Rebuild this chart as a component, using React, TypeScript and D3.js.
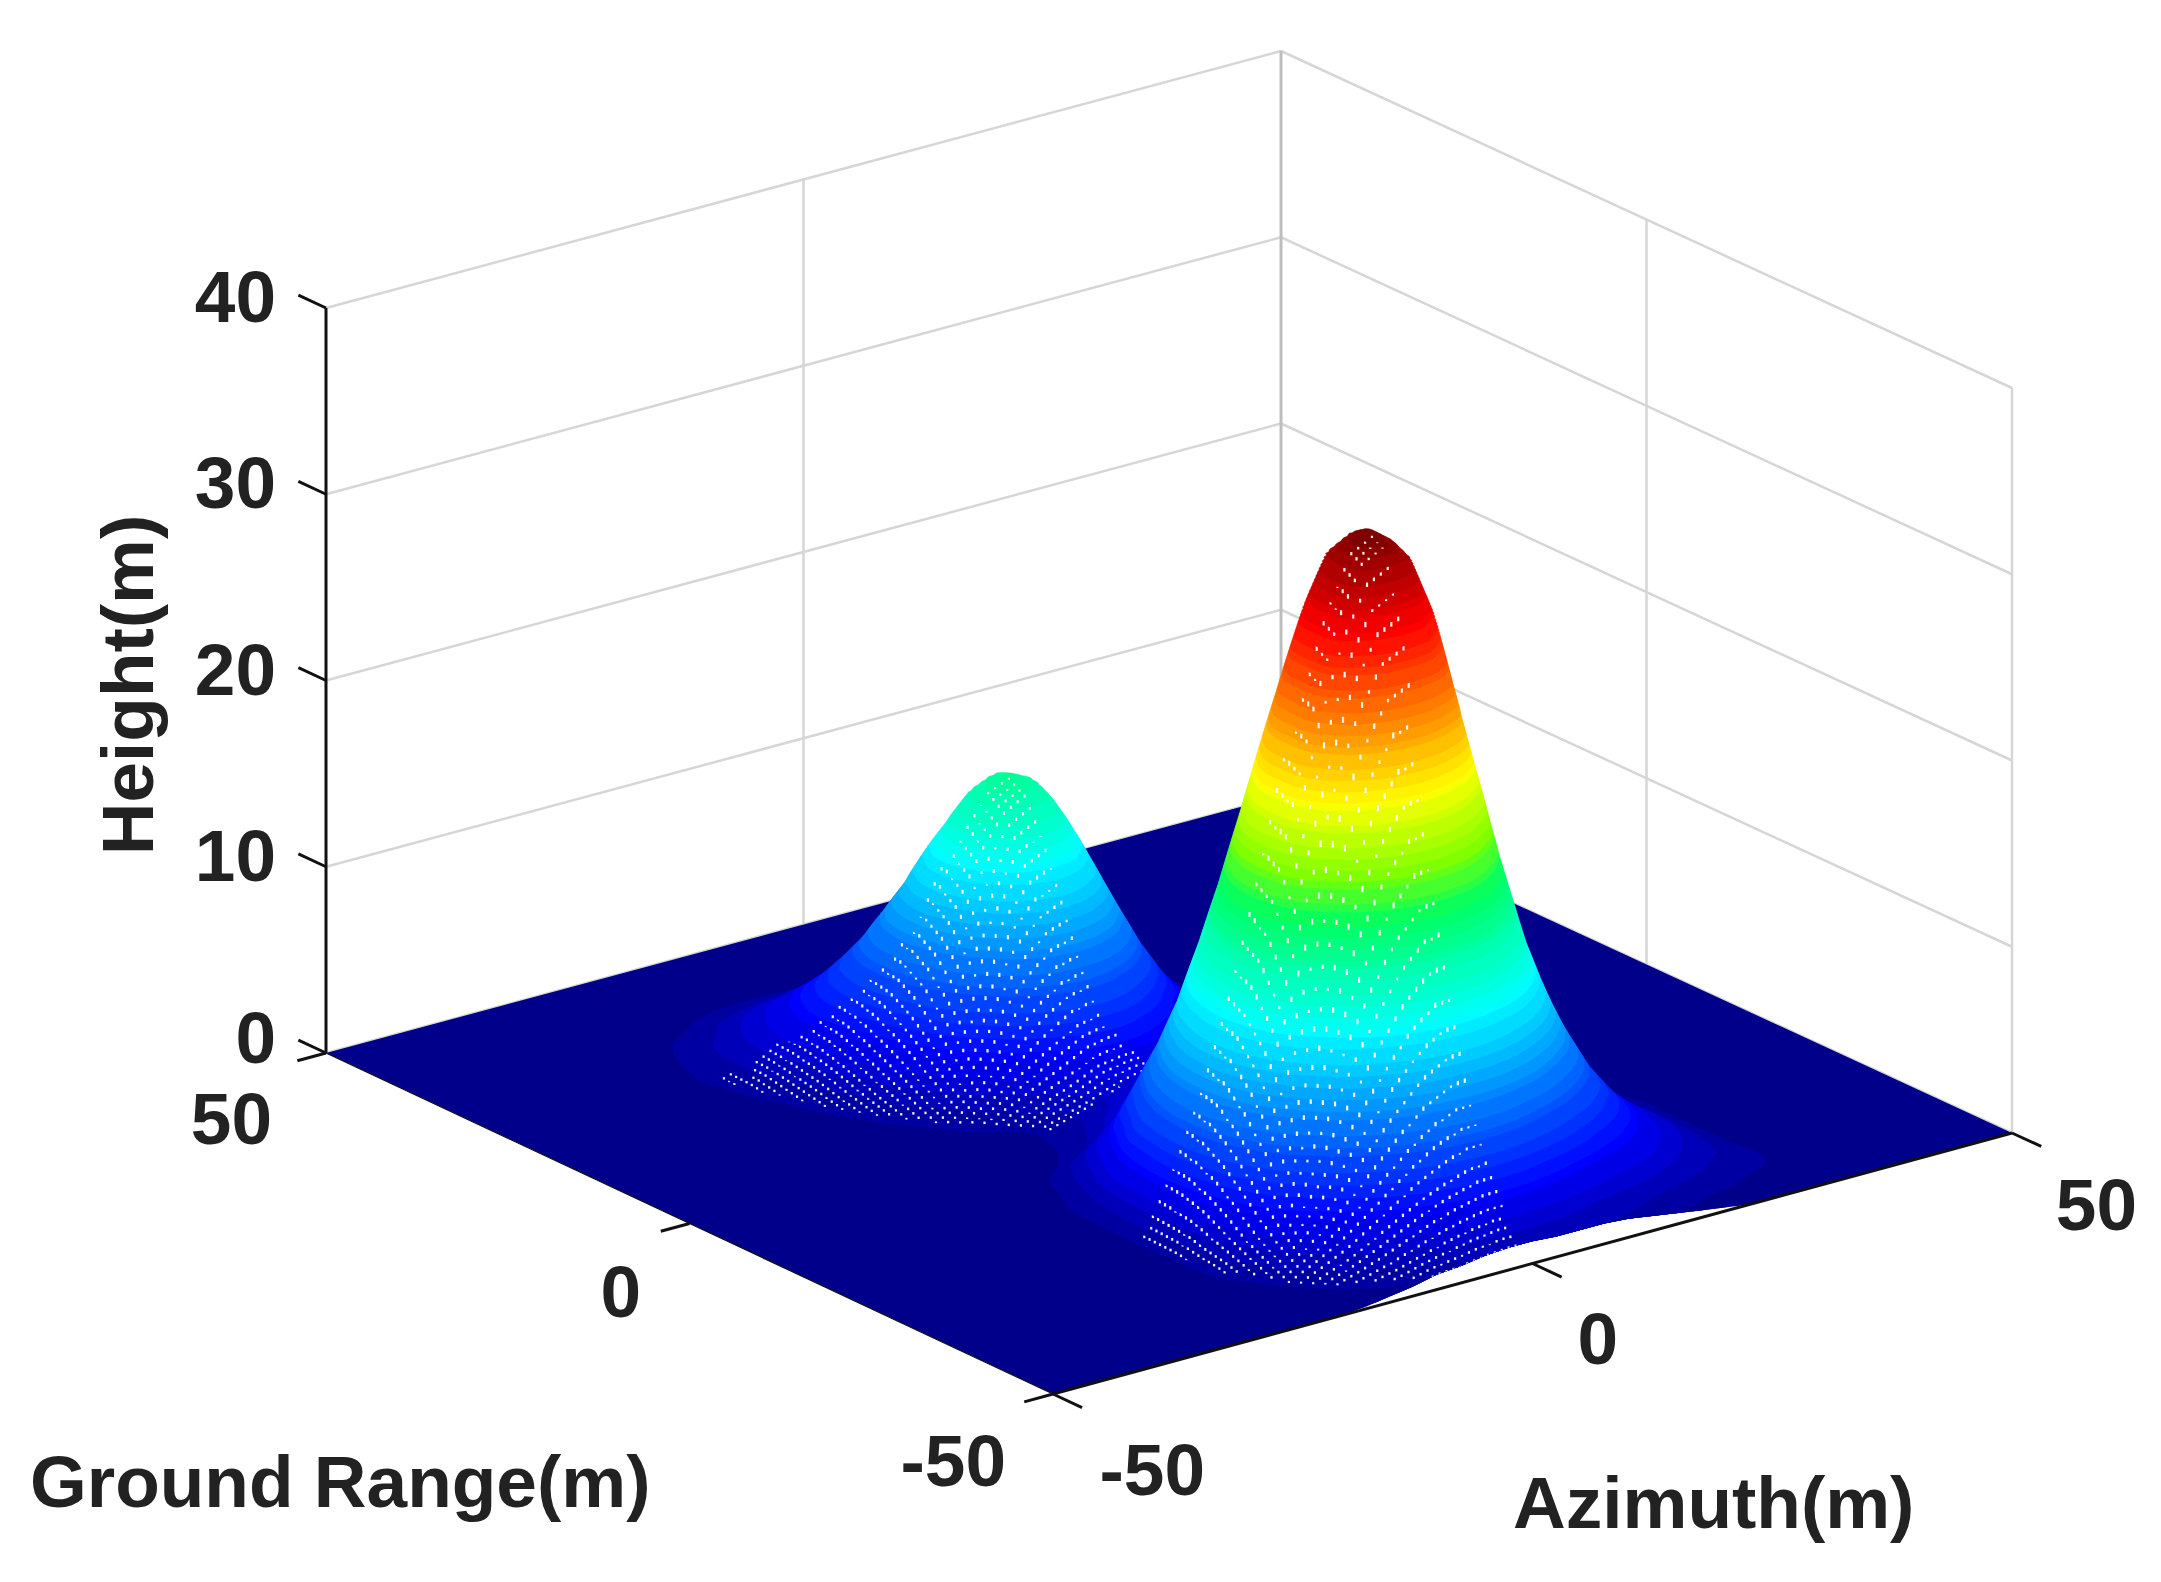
import React from 'react';
import * as d3 from 'd3';

const WIDTH = 2161;
const HEIGHT = 1582;

// tick labels
const azimuthTicks = [-50, 0, 50];
const rangeTicks = [-50, 0, 50];
const heightTicks = [0, 10, 20, 30, 40];

// height (m), every 2.5 m, around the near peak
const nearPeakX = [-32.5, -30, -27.5, -25, -22.5, -20, -17.5, -15, -12.5, -10, -7.5, -5, -2.5, 0, 2.5, 5, 7.5, 10, 12.5, 15, 17.5, 20, 22.5, 25, 27.5, 30, 32.5, 35];
const nearPeakY = [-50, -47.5, -45, -42.5, -40, -37.5, -35, -32.5, -30, -27.5, -25, -22.5, -20, -17.5, -15, -12.5, -10, -7.5, -5, -2.5, 0, 2.5];
const nearPeakRows = [
  [0, 0, 0, 0, 0, 0, .1, .3, .5, .8, .9, 1.1, 1.2, 1.2, 1.1, 1.1, 1.1, 1, .8, .6, .4, .2, 0, 0, 0, 0, 0, 0],
  [0, 0, 0, .1, .1, .2, .5, .8, 1.1, 1.5, 1.9, 2.2, 2.4, 2.4, 2.3, 2.1, 1.8, 1.5, 1.3, 1.1, .9, .7, .6, .4, .3, .2, .1, .1],
  [0, 0, .1, .1, .2, .5, 1, 1.5, 2.2, 2.9, 3.6, 4.1, 4.5, 4.6, 4.4, 3.9, 3.4, 2.8, 2.3, 2, 1.6, 1.3, 1, .8, .6, .4, .2, .1],
  [0, 0, .1, .1, .4, 1, 1.7, 2.6, 3.7, 4.9, 6.1, 7.1, 7.7, 7.8, 7.5, 6.7, 5.7, 4.7, 3.8, 3.1, 2.5, 1.9, 1.4, 1.1, .8, .4, .3, .1],
  [0, 0, .1, .3, .7, 1.5, 2.7, 4.1, 5.9, 7.8, 9.6, 11.2, 12.2, 12.4, 11.8, 10.6, 9, 7.2, 5.7, 4.4, 3.4, 2.5, 1.8, 1.3, .7, .4, .2, .1],
  [0, .1, .2, .4, 1, 2.1, 4, 6, 8.5, 11.3, 14, 16.3, 17.7, 18, 17.2, 15.4, 12.9, 10.3, 7.9, 6, 4.4, 3.1, 2.1, 1.5, .7, .4, .2, .1],
  [0, .1, .2, .4, 1.2, 3, 5.3, 8, 11.4, 15.1, 18.8, 21.8, 23.7, 24.1, 23, 20.6, 17.2, 13.7, 10.3, 7.6, 5.3, 3.6, 2.4, 1.6, .7, .4, .2, .1],
  [0, .1, .2, .4, 1.5, 3.7, 6.5, 9.9, 14, 19, 23.9, 27.7, 30, 30.6, 29.8, 26.8, 22.1, 17.1, 12.5, 8.9, 6.1, 3.9, 2.5, 1.6, .7, .4, .2, .1],
  [0, .1, .2, .4, 1.6, 4.2, 7.4, 11.2, 15.9, 21.6, 27.2, 31.5, 34.2, 34.9, 33.9, 30.5, 25.2, 19.5, 13.9, 9.8, 6.5, 4.1, 2.5, 1.5, .7, .4, .2, .1],
  [0, .1, .2, .4, 1.7, 4.4, 7.7, 11.7, 16.6, 22, 27.6, 32, 34.7, 35.4, 34.4, 31, 25.6, 19.8, 14.3, 10, 6.5, 4, 2.4, 1.4, .7, .4, .2, .1],
  [0, .1, .2, .4, 1.6, 4.2, 7.5, 11.3, 16, 21.5, 27, 31.3, 34, 34.7, 33.7, 30.3, 25, 19.2, 13.8, 9.5, 6.1, 3.7, 2.1, 1.2, .6, .3, .1, 0],
  [0, .1, .2, .4, 1.4, 3.8, 6.8, 10.2, 14.5, 19.3, 24, 27.8, 30.2, 30.8, 30, 26.9, 22.2, 17.2, 12.4, 8.5, 5.4, 3.2, 1.8, 1, .5, .2, .1, 0],
  [0, .1, .2, .4, 1.2, 3.2, 5.7, 8.7, 12.3, 16.3, 20.2, 23.5, 25.6, 26, 24.8, 22.1, 18.4, 14.3, 10.5, 7.2, 4.6, 2.7, 1.5, .8, .4, .2, .1, 0],
  [0, .1, .1, .3, .9, 2.2, 4.2, 6.9, 9.7, 12.9, 16, 18.6, 20.3, 20.6, 19.6, 17.5, 14.6, 11.4, 8.3, 5.7, 3.6, 2.1, 1.2, .6, .3, .1, .1, 0],
  [0, 0, .1, .2, .6, 1.5, 3, 5.1, 7.2, 9.6, 11.9, 13.8, 15.1, 15.3, 14.6, 13, 10.8, 8.4, 6.2, 4.2, 2.7, 1.6, .9, .5, .2, .1, 0, 0],
  [0, 0, 0, .1, .4, 1, 1.9, 3.1, 5, 6.6, 8.2, 9.6, 10.4, 10.6, 10.1, 9, 7.5, 5.8, 4.3, 2.9, 1.9, 1.1, .6, .3, .2, .1, 0, 0],
  [0, 0, 0, 0, .2, .4, .8, 1.4, 2.4, 4.3, 5.4, 6.2, 6.8, 6.9, 6.6, 5.8, 4.9, 3.8, 2.8, 1.9, 1.2, .7, .4, .2, .1, 0, 0, 0],
  [0, 0, 0, 0, 0, .2, .4, .8, 1.4, 2.2, 3.2, 3.8, 4.1, 4.2, 4, 3.5, 3, 2.3, 1.7, 1.2, .7, .4, .2, .1, .1, 0, 0, 0],
  [0, 0, 0, 0, 0, 0, .2, .4, .7, 1.1, 1.6, 2.2, 2.3, 2.4, 2.3, 2, 1.7, 1.3, 1, .7, .4, .2, .1, .1, 0, 0, 0, 0],
  [0, 0, 0, 0, 0, 0, 0, .2, .3, .5, .8, 1.1, 1.2, 1.3, 1.2, 1.1, .9, .7, .5, .3, .2, .1, .1, 0, 0, 0, 0, 0],
  [0, 0, 0, 0, 0, 0, 0, 0, .1, .2, .4, .5, .6, .6, .6, .5, .4, .3, .3, .2, .1, .1, 0, 0, 0, 0, 0, 0],
  [0, 0, 0, 0, 0, 0, 0, 0, 0, .1, .2, .3, .3, .3, .3, .2, .2, .2, .1, .1, 0, 0, 0, 0, 0, 0, 0, 0],
];

// same for the far peak and its low shoulder on the left
const farPeakX = [-37.5, -35, -32.5, -30, -27.5, -25, -22.5, -20, -17.5, -15, -12.5, -10, -7.5, -5, -2.5, 0, 2.5, 5, 7.5, 10, 12.5, 15, 17.5];
const farPeakY = [37.5, 35, 32.5, 30, 27.5, 25, 22.5, 20, 17.5, 15, 12.5, 10, 7.5, 5, 2.5, 0, -2.5, -5, -7.5];
const farPeakRows = [
  [0, 0, 0, .1, .1, .2, .3, .4, .4, .4, .4, .4, .4, .3, .3, .2, .2, .1, .1, 0, 0, 0, 0],
  [0, 0, .1, .2, .3, .4, .6, .7, .8, .9, .9, .8, .8, .7, .6, .5, .4, .3, .2, .1, 0, 0, 0],
  [0, .1, .1, .3, .5, .7, 1, 1.2, 1.4, 1.5, 1.6, 1.6, 1.5, 1.4, 1.3, 1, .8, .5, .3, .2, .1, 0, 0],
  [0, .1, .2, .4, .7, 1, 1.5, 1.9, 2.2, 2.5, 2.7, 2.8, 2.8, 2.7, 2.4, 2, 1.5, 1.1, .7, .4, .2, .1, 0],
  [0, .1, .3, .5, .9, 1.4, 1.9, 2.5, 3.1, 3.6, 4.1, 4.5, 4.6, 4.6, 4.2, 3.5, 2.7, 1.9, 1.2, .7, .3, .2, .1],
  [0, .1, .3, .6, 1, 1.6, 2.3, 3.1, 4, 4.9, 5.8, 6.6, 7.1, 7.1, 6.5, 5.5, 4.2, 2.9, 1.9, 1.1, .5, .3, .1],
  [.1, .1, .3, .6, 1, 1.7, 2.5, 3.6, 4.8, 6.2, 7.6, 8.9, 9.8, 9.9, 9.3, 7.9, 6, 4.2, 2.7, 1.5, .8, .4, .2],
  [0, .1, .3, .5, 1, 1.6, 2.5, 3.8, 5.3, 7.1, 9.2, 11, 12.3, 12.7, 11.9, 10.1, 7.8, 5.4, 3.4, 2, 1, .5, .2],
  [0, .1, .2, .4, .8, 1.4, 2.3, 3.7, 5.4, 7.6, 10.1, 12.5, 14.1, 14.7, 14, 11.8, 9.1, 6.3, 4, 2.3, 1.2, .5, .2],
  [0, .1, .2, .3, .6, 1.2, 2, 3.3, 5.2, 7.6, 10.3, 12.8, 14.6, 15.1, 14.5, 12.4, 9.5, 6.7, 4.2, 2.4, 1.2, .6, .2],
  [0, 0, .1, .2, .5, .9, 1.6, 2.8, 4.6, 6.9, 9.5, 12, 13.8, 14.5, 13.9, 11.7, 9.1, 6.3, 4, 2.3, 1.2, .5, .2],
  [0, 0, .1, .1, .3, .7, 1.2, 2.3, 3.7, 5.7, 8, 10.2, 11.8, 12.4, 11.7, 10, 7.8, 5.4, 3.4, 2, 1, .5, .2],
  [0, 0, 0, .1, .2, .5, .9, 1.7, 2.8, 4.3, 6.1, 7.9, 9.1, 9.6, 9.1, 7.8, 6, 4.2, 2.7, 1.5, .8, .4, .2],
  [0, 0, 0, 0, .1, .3, .6, 1.1, 1.9, 3, 4.2, 5.5, 6.4, 6.7, 6.3, 5.4, 4.2, 2.9, 1.9, 1.1, .5, .3, .1],
  [0, 0, 0, 0, .1, .2, .3, .7, 1.2, 1.9, 2.7, 3.4, 4, 4.2, 4, 3.4, 2.7, 1.9, 1.2, .7, .3, .2, .1],
  [0, 0, 0, 0, 0, .1, .2, .4, .7, 1.1, 1.5, 1.9, 2.3, 2.4, 2.3, 1.9, 1.5, 1.1, .7, .4, .2, .1, 0],
  [0, 0, 0, 0, 0, 0, .1, .2, .3, .5, .8, 1, 1.2, 1.2, 1.2, 1, .8, .5, .3, .2, .1, 0, 0],
  [0, 0, 0, 0, 0, 0, 0, .1, .2, .3, .4, .5, .5, .6, .5, .5, .4, .3, .2, .1, 0, 0, 0],
  [0, 0, 0, 0, 0, 0, 0, 0, .1, .1, .2, .2, .2, .2, .2, .2, .2, .1, .1, 0, 0, 0, 0],
];

// colour against fraction of the highest point
const colourStops = [0, 0.08, 0.32, 0.47, 0.54, 0.64, 0.875, 1];
const colourValues = ['#00008b', '#0000ff', '#00ffff', '#00ff64', '#80ff00', '#ffff00', '#ff0000', '#800000'];

const STEP = 2.5;
const N = 41;
const Z_MAX = 35.4;
const N_BANDS = 64; // colour steps of the map
const N_LEVELS = 192; // slices, finer than the bands to keep the outline smooth

// all four floor corners, the view has a slight perspective
const corners = {
  front: [1053, 1394],
  right: [2012, 1133],
  left: [326, 1053],
  back: [1281, 796],
};

const uScale = d3.scaleLinear().domain([-50, 50]).range([0, 1]);
const vScale = d3.scaleLinear().domain([-50, 50]).range([0, 1]);
const zScale = d3.scaleLinear().domain([0, 40]).range([0, -745]);
const cellScale = d3.scaleLinear().domain([0.5, N - 0.5]).range([-50, 50]).clamp(true);
const colour = d3.scaleLinear<string>().domain(colourStops).range(colourValues).interpolate(d3.interpolateRgb).clamp(true);
const bandColour = (z: number) => colour(Math.floor((z / Z_MAX) * N_BANDS) / (N_BANDS - 1));

function project(x: number, y: number, z: number): [number, number] {
  const u = uScale(x);
  const v = vScale(y);
  const { front, right, left, back } = corners;
  const px = (1 - u) * (1 - v) * front[0] + u * (1 - v) * right[0] + (1 - u) * v * left[0] + u * v * back[0];
  const py = (1 - u) * (1 - v) * front[1] + u * (1 - v) * right[1] + (1 - u) * v * left[1] + u * v * back[1];
  return [px, py + zScale(z)];
}

// flat height grid, first row at y = -50
const grid = new Float64Array(N * N);
const gridIndex = (v: number) => Math.round((v + 50) / STEP);
function addPatch(xs: number[], ys: number[], rows: number[][]) {
  rows.forEach((row, r) => {
    row.forEach((v, c) => {
      grid[gridIndex(ys[r]) * N + gridIndex(xs[c])] += v;
    });
  });
}
addPatch(nearPeakX, nearPeakY, nearPeakRows);
addPatch(farPeakX, farPeakY, farPeakRows);

function heightAt(x: number, y: number) {
  const fx = Math.min(N - 1.001, Math.max(0, (x + 50) / STEP));
  const fy = Math.min(N - 1.001, Math.max(0, (y + 50) / STEP));
  const i = Math.floor(fx);
  const j = Math.floor(fy);
  const tx = fx - i;
  const ty = fy - j;
  return (
    grid[j * N + i] * (1 - tx) * (1 - ty) +
    grid[j * N + i + 1] * tx * (1 - ty) +
    grid[(j + 1) * N + i] * (1 - tx) * ty +
    grid[(j + 1) * N + i + 1] * tx * ty
  );
}

const levelStep = Z_MAX / N_LEVELS;
const levels = d3.range(1, N_LEVELS).map(k => k * levelStep);
const contours = d3.contours().size([N, N]).thresholds(levels)(Array.from(grid));

const ringLine = d3.line().curve(d3.curveCatmullRomClosed.alpha(0.5));
const slices = contours.map(c => {
  const d = c.coordinates
    .flatMap(polygon => polygon)
    .map(ring => ringLine(ring.slice(0, -1).map(p => project(cellScale(p[0]), cellScale(p[1]), c.value))))
    .join('');
  return { level: c.value, d };
});

// mesh gaps: white specks on the slope that faces the front corner
type Speck = { px: number; py: number; h: number };
const specksByLevel: Speck[][] = levels.map(() => []);
d3.range(-50, 50.01, 0.72).forEach(x => {
  d3.range(-50, 50.01, 0.72).forEach(y => {
    const z = heightAt(x, y);
    if (z < 0.7) return;
    const dzdx = (heightAt(x + 1, y) - heightAt(x - 1, y)) / 2;
    const dzdy = (heightAt(x, y + 1) - heightAt(x, y - 1)) / 2;
    if (dzdx < 0.005 || dzdy < 0.005) return;
    const [px, py] = project(x, y, z);
    const h = Math.min(7.5, 2 + 1.4 * (Math.abs(dzdx) + Math.abs(dzdy)));
    const bucket = Math.min(levels.length - 1, Math.max(0, Math.floor(z / levelStep) - 1));
    specksByLevel[bucket].push({ px, py, h });
  });
});

// front edge of the surface, lifted where the near peak runs off the grid
const gridAxis = d3.range(-50, 50.01, STEP);
const frontEdge = gridAxis.map(x => project(x, -50, heightAt(x, -50)));
const floorOutline = [...frontEdge, project(50, 50, 0), project(-50, 50, 0)];
const clipOutline = [
  ...frontEdge,
  [WIDTH, frontEdge[frontEdge.length - 1][1]],
  [WIDTH, 0],
  [0, 0],
  [0, frontEdge[0][1]],
] as [number, number][];
const polygon = d3.line().curve(d3.curveLinear);

const GRID_COLOUR = '#d6d6d6';
const TEXT_COLOUR = '#222222';
const FONT = '"Liberation Sans", Arial, sans-serif';

function Seg({ a, b, stroke, w }: { a: [number, number]; b: [number, number]; stroke: string; w: number }) {
  return <line x1={a[0]} y1={a[1]} x2={b[0]} y2={b[1]} stroke={stroke} strokeWidth={w} />;
}

const label = { fontFamily: FONT, fontWeight: 700, fontSize: 73, fill: TEXT_COLOUR };

export default function App() {
  return (
    <svg width={WIDTH} height={HEIGHT} style={{ position: 'absolute', left: 0, top: 0, background: '#fff' }}>
      {/* back walls */}
      <g>
        {heightTicks.map(t => (
          <g key={t}>
            <Seg a={project(-50, 50, t)} b={project(50, 50, t)} stroke={GRID_COLOUR} w={2.5} />
            <Seg a={project(50, 50, t)} b={project(50, -50, t)} stroke={GRID_COLOUR} w={2.5} />
          </g>
        ))}
        <Seg a={project(0, 50, 0)} b={project(0, 50, 40)} stroke={GRID_COLOUR} w={2.5} />
        <Seg a={project(50, 50, 0)} b={project(50, 50, 40)} stroke="#bdbdbd" w={3} />
        <Seg a={project(50, 0, 0)} b={project(50, 0, 40)} stroke={GRID_COLOUR} w={2.5} />
        <Seg a={project(50, -50, 0)} b={project(50, -50, 40)} stroke={GRID_COLOUR} w={2.5} />
      </g>

      <clipPath id="surface-clip">
        <path d={polygon(clipOutline) + 'Z'} />
      </clipPath>

      {/* surface: stacked height slices, lowest first, so higher ones hide what is behind */}
      <path d={polygon(floorOutline) + 'Z'} fill={colour(0)} />
      <g clipPath="url(#surface-clip)">
        {slices.map((s, i) => (
          <g key={i}>
            <path d={s.d} fill={bandColour(s.level)} stroke={bandColour(s.level)} strokeWidth={0.6} fillRule="evenodd" />
            {specksByLevel[i].map((p, k) => (
              <rect key={k} x={p.px - 1.1} y={p.py - p.h / 2} width={2.2} height={p.h} fill="#fff" fillOpacity={0.95} />
            ))}
          </g>
        ))}
      </g>

      {/* axes */}
      <Seg a={project(-50, 50, 0)} b={project(-50, 50, 40)} stroke="#111" w={3} />
      <Seg a={project(-50, -50, 0)} b={project(50, -50, 0)} stroke="#111" w={3} />
      <Seg a={project(-50, 50, 0)} b={project(-50, -50, 0)} stroke="#111" w={1.2} />
      {heightTicks.map(t => (
        <Seg key={t} a={project(-50, 50, t)} b={project(-50, 53.8, t)} stroke="#111" w={3} />
      ))}
      {rangeTicks.map(t => (
        <Seg key={t} a={project(-50, t, 0)} b={project(-53, t, 0)} stroke="#111" w={3} />
      ))}
      {azimuthTicks.map(t => (
        <Seg key={t} a={project(t, -50, 0)} b={project(t, -54, 0)} stroke="#111" w={3} />
      ))}

      {/* tick labels */}
      {heightTicks.map(t => {
        const p = project(-50, 50, t);
        return (
          <text key={t} {...label} x={p[0] - 50} y={p[1] + (t === 0 ? 10 : 14)} textAnchor="end">
            {t}
          </text>
        );
      })}
      {rangeTicks.map((t, i) => {
        const pos = [[1006, 1486], [641, 1317], [272, 1144]][i];
        return (
          <text key={t} {...label} x={pos[0]} y={pos[1]} textAnchor="end">
            {t}
          </text>
        );
      })}
      {azimuthTicks.map((t, i) => {
        const pos = [[1205, 1495], [1618, 1364], [2137, 1230]][i];
        return (
          <text key={t} {...label} x={pos[0]} y={pos[1]} textAnchor="end">
            {t}
          </text>
        );
      })}

      <text {...label} x={30} y={1507}>Ground Range(m)</text>
      <text {...label} x={1513} y={1528}>Azimuth(m)</text>
      <text {...label} transform="translate(153,685) rotate(-90)" textAnchor="middle">Height(m)</text>
    </svg>
  );
}
